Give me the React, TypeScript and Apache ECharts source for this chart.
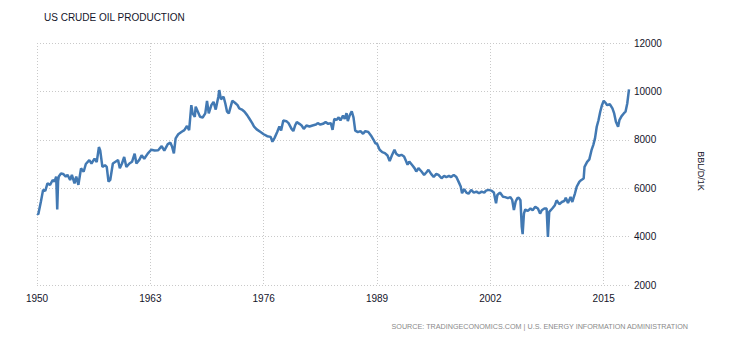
import React, { useEffect, useRef } from "react";
import * as echarts from "echarts";

const chartTitle = "US CRUDE OIL PRODUCTION";
const sourceText = "SOURCE: TRADINGECONOMICS.COM | U.S. ENERGY INFORMATION ADMINISTRATION";
const unitLabel = "BBL/D/1K";

const years = [
  1950.0, 1950.15, 1950.45, 1950.7, 1950.95, 1951.2, 1951.5, 1951.8, 1952.0, 1952.2,
  1952.32, 1952.42, 1952.5, 1952.75, 1953.0, 1953.3, 1953.5, 1953.8, 1954.0, 1954.3,
  1954.5, 1954.75, 1955.05, 1955.35, 1955.6, 1956.0, 1956.25, 1956.6, 1956.85, 1957.1,
  1957.25, 1957.5, 1957.8, 1958.0, 1958.2, 1958.4, 1958.7, 1959.0, 1959.3, 1959.5,
  1959.75, 1960.0, 1960.25, 1960.6, 1960.9, 1961.2, 1961.4, 1961.75, 1962.0, 1962.3,
  1962.7, 1963.1, 1963.5, 1963.9, 1964.3, 1964.6, 1965.0, 1965.3, 1965.5, 1965.7,
  1965.9, 1966.2, 1966.6, 1966.9, 1967.2, 1967.45, 1967.7, 1967.85, 1968.1, 1968.2,
  1968.45, 1968.7, 1969.0, 1969.3, 1969.5, 1969.7, 1970.0, 1970.25, 1970.5, 1970.8,
  1970.9, 1971.1, 1971.4, 1971.6, 1971.8, 1972.0, 1972.4, 1972.7, 1973.0, 1973.2,
  1973.5, 1973.8, 1974.1, 1974.35, 1974.7, 1974.9, 1975.2, 1975.6, 1976.0, 1976.4,
  1976.8, 1977.0, 1977.25, 1977.55, 1977.8, 1978.0, 1978.25, 1978.6, 1978.85, 1979.2,
  1979.4, 1979.6, 1979.8, 1980.1, 1980.35, 1980.6, 1980.9, 1981.25, 1981.6, 1982.0,
  1982.2, 1982.5, 1982.8, 1983.1, 1983.4, 1983.7, 1983.9, 1984.1, 1984.35, 1984.6,
  1984.8, 1985.1, 1985.3, 1985.5, 1985.65, 1985.85, 1986.1, 1986.3, 1986.5, 1986.8,
  1987.1, 1987.4, 1987.65, 1988.0, 1988.3, 1988.6, 1988.8, 1989.0, 1989.3, 1989.6,
  1989.9, 1990.2, 1990.45, 1990.7, 1991.0, 1991.2, 1991.5, 1991.8, 1992.1, 1992.3,
  1992.5, 1992.7, 1993.0, 1993.3, 1993.5, 1993.75, 1994.1, 1994.4, 1994.65, 1994.9,
  1995.2, 1995.5, 1995.8, 1996.05, 1996.4, 1996.7, 1996.95, 1997.25, 1997.5, 1997.8,
  1998.1, 1998.4, 1998.6, 1998.75, 1999.0, 1999.25, 1999.5, 1999.8, 2000.1, 2000.4,
  2000.7, 2001.0, 2001.3, 2001.5, 2001.8, 2002.1, 2002.4, 2002.65, 2002.8, 2003.1,
  2003.45, 2003.7, 2004.0, 2004.3, 2004.5, 2004.7, 2004.9, 2005.1, 2005.25, 2005.45,
  2005.6, 2005.7, 2005.85, 2006.0, 2006.3, 2006.6, 2006.85, 2007.15, 2007.45, 2007.7,
  2007.9, 2008.2, 2008.45, 2008.6, 2008.75, 2009.1, 2009.4, 2009.6, 2009.9, 2010.2,
  2010.5, 2010.65, 2010.9, 2011.2, 2011.4, 2011.55, 2011.7, 2011.9, 2012.2, 2012.4,
  2012.7, 2012.8, 2013.1, 2013.35, 2013.6, 2013.8, 2014.0, 2014.2, 2014.4, 2014.6,
  2014.8, 2015.0, 2015.2, 2015.4, 2015.7, 2016.0, 2016.2, 2016.4, 2016.65, 2016.8,
  2017.05, 2017.3, 2017.5, 2017.7, 2017.9,
];

const production = [
  4950, 4920, 5450, 5930, 5890, 6200, 6140, 6340, 6270, 6480,
  5120, 6300, 6480, 6610, 6590, 6480, 6550, 6340, 6550, 6200,
  6480, 6140, 6820, 6680, 7000, 7160, 7020, 7220, 7080, 7700,
  7560, 6880, 6950, 6880, 6270, 6340, 7020, 7090, 7160, 6820,
  7020, 7290, 6880, 7020, 7090, 7430, 7020, 7180, 7360, 7220,
  7430, 7590, 7560, 7570, 7740, 7550, 7820, 7880, 7710, 7440,
  8060, 8230, 8330, 8400, 8570, 8400, 9430, 9090, 8950, 9370,
  9160, 8950, 8920, 9090, 9610, 9090, 9430, 9570, 9250, 9780,
  10055, 9670, 9780, 9500, 9160, 9090, 9610, 9530, 9430, 9300,
  9250, 9160, 9020, 8880, 8680, 8540, 8430, 8330, 8230, 8150,
  8120, 7920, 8080, 8320, 8550, 8380, 8800, 8770, 8690, 8450,
  8360, 8590, 8730, 8660, 8590, 8450, 8590, 8550, 8590, 8630,
  8690, 8630, 8660, 8730, 8660, 8690, 8410, 8860, 8820, 8930,
  8800, 9000, 8860, 9100, 8770, 9000, 9180, 8930, 8380, 8320,
  8360, 8250, 8360, 8320, 8180, 8000, 7860, 7840, 7590, 7490,
  7450, 7350, 7120, 7350, 7590, 7420, 7340, 7380, 7310, 7140,
  6970, 7100, 6970, 6830, 6690, 6830, 6690, 6550, 6650, 6760,
  6590, 6460, 6590, 6550, 6410, 6510, 6460, 6510, 6460, 6550,
  6460, 6230, 6070, 5790, 5960, 5820, 5770, 5930, 5820, 5860,
  5790, 5860, 5820, 5900, 5930, 5900, 5820, 5380, 5720, 5820,
  5650, 5630, 5590, 5630, 5520, 5100, 5450, 5590, 5610, 5500,
  4400, 4100, 4950, 5120, 5060, 5160, 5090, 5230, 5160, 4950,
  5090, 5160, 5160, 3990, 5020, 5160, 5300, 5500, 5340, 5430,
  5480, 5610, 5390, 5640, 5430, 5610, 5780, 6060, 6260, 6330,
  6400, 6880, 7090, 7190, 7570, 7780, 8060, 8540, 8810, 9160,
  9430, 9610, 9530, 9430, 9470, 9300, 9090, 8750, 8540, 8810,
  8980, 9090, 9160, 9500, 10080,
];

const yearTicks = [1950, 1963, 1976, 1989, 2002, 2015];
const valueTicks = [2000, 4000, 6000, 8000, 10000, 12000];

const FONT = "'Liberation Sans', Arial, sans-serif";

export default function App() {
  const ref = useRef<HTMLDivElement>(null);

  useEffect(() => {
    if (!ref.current) return;
    const chart = echarts.init(ref.current, null, { renderer: "svg" });
    const grid = "#c9c9c9";
    chart.setOption({
      animation: false,
      backgroundColor: "#ffffff",
      textStyle: { fontFamily: FONT },
      grid: { left: 37, right: 101, top: 43, bottom: 55, containLabel: false },
      xAxis: {
        type: "value",
        min: yearTicks[0],
        max: years[years.length - 1],
        interval: yearTicks[1] - yearTicks[0],
        axisLine: { show: false },
        axisTick: { show: false },
        splitLine: {
          show: true,
          showMaxLine: false,
          lineStyle: { color: grid, type: [1, 2], width: 1 },
        },
        axisLabel: {
          color: "#14142a",
          fontSize: 10,
          fontFamily: FONT,
          margin: 8,
          showMaxLabel: false,
          formatter: (v: number) => {
            const r = Math.round(v);
            return yearTicks.includes(r) && Math.abs(v - r) < 1e-6 ? String(r) : "";
          },
        },
      },
      yAxis: {
        type: "value",
        position: "right",
        min: valueTicks[0],
        max: valueTicks[valueTicks.length - 1],
        interval: valueTicks[1] - valueTicks[0],
        axisLine: { show: false },
        axisTick: { show: false },
        splitLine: {
          show: true,
          lineStyle: { color: grid, type: [1, 2], width: 1 },
        },
        axisLabel: {
          color: "#14142a",
          fontSize: 10,
          fontFamily: FONT,
          margin: 5,
          formatter: (v: number) => String(v),
        },
      },
      graphic: [
        {
          type: "text",
          left: 44,
          top: 12,
          style: {
            text: chartTitle,
            fill: "#14142a",
            font: `10px ${FONT}`,
          },
        },
        {
          type: "text",
          x: 688,
          y: 326,
          style: {
            text: sourceText,
            fill: "#8a8a8a",
            font: `7.2px ${FONT}`,
            textAlign: "right",
            textVerticalAlign: "middle",
          },
        },
        {
          type: "text",
          x: 701,
          y: 171,
          rotation: -Math.PI / 2,
          style: {
            text: unitLabel,
            fill: "#14142a",
            font: `9px ${FONT}`,
            textAlign: "center",
            textVerticalAlign: "middle",
          },
        },
      ],
      series: [
        {
          type: "line",
          data: years.map((y, i) => [y, production[i]]),
          showSymbol: false,
          symbol: "none",
          lineStyle: { color: "#4279b3", width: 2.5 },
          itemStyle: { color: "#4279b3" },
          z: 5,
        },
      ],
    });
    return () => chart.dispose();
  }, []);

  return (
    <div
      ref={ref}
      style={{ position: "fixed", left: 0, top: 0, width: 730, height: 340, background: "#fff" }}
    />
  );
}
